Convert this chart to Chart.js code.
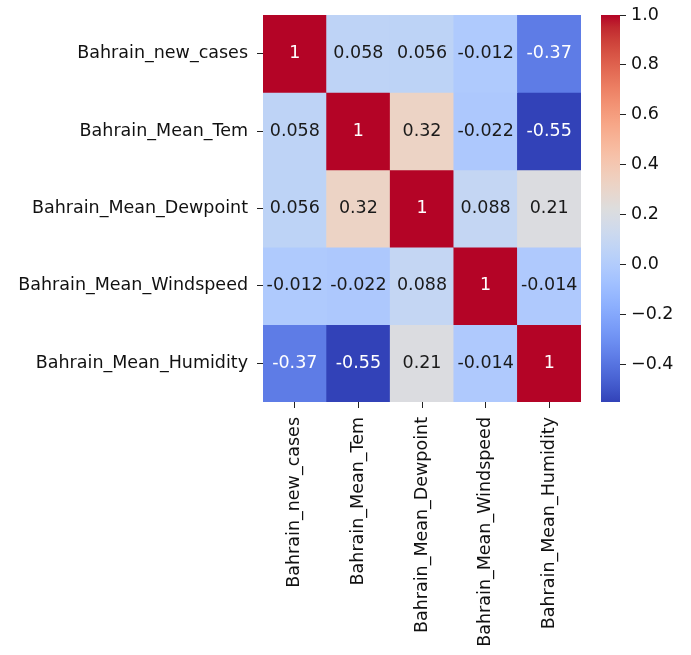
<!DOCTYPE html>
<html>
<head>
<meta charset="utf-8">
<script src="https://cdn.jsdelivr.net/npm/chart.js@4/dist/chart.umd.min.js"></script>
<style>
  html, body { margin: 0; padding: 0; background: #fff; }
  #wrap { position: relative; width: 691px; height: 655px; }
  #heatmap { position: absolute; left: 0; top: 0; }
  #colorbar { position: absolute; left: 590px; top: 0; }
</style>
</head>
<body>
<div id="wrap">
  <canvas id="heatmap" width="600" height="655"></canvas>
  <canvas id="colorbar" width="101" height="655"></canvas>
</div>
<script>
'use strict';

const variables = [
  'Bahrain_new_cases',
  'Bahrain_Mean_Tem',
  'Bahrain_Mean_Dewpoint',
  'Bahrain_Mean_Windspeed',
  'Bahrain_Mean_Humidity'
];

// correlation rows, same order as the variables
const corrNewCases  = [1, 0.058, 0.056, -0.012, -0.37];
const corrMeanTem   = [0.058, 1, 0.32, -0.022, -0.55];
const corrDewpoint  = [0.056, 0.32, 1, 0.088, 0.21];
const corrWindspeed = [-0.012, -0.022, 0.088, 1, -0.014];
const corrHumidity  = [-0.37, -0.55, 0.21, -0.014, 1];

const colorbarTicks = [-0.4, -0.2, 0.0, 0.2, 0.4, 0.6, 0.8, 1.0];

const corrRows = [corrNewCases, corrMeanTem, corrDewpoint, corrWindspeed, corrHumidity];
const allValues = corrRows.flat();
const vmin = Math.min(...allValues);
const vmax = Math.max(...allValues);

// coolwarm control points: t, r, g, b
const COOLWARM = [
  [0.0, 50, 66, 184], [0.03125, 62, 84, 199], [0.0625, 74, 100, 212], [0.09375, 85, 114, 223],
  [0.125, 97, 128, 233], [0.15625, 108, 142, 241], [0.1875, 119, 154, 247], [0.21875, 130, 165, 251],
  [0.25, 141, 176, 254], [0.28125, 152, 185, 255], [0.3125, 163, 194, 255], [0.34375, 174, 201, 253],
  [0.375, 184, 208, 249], [0.40625, 194, 213, 244], [0.4375, 204, 217, 238], [0.46875, 213, 219, 230],
  [0.5, 221, 221, 221], [0.53125, 229, 216, 209], [0.5625, 236, 211, 197], [0.59375, 241, 204, 185],
  [0.625, 245, 196, 173], [0.65625, 247, 187, 160], [0.6875, 247, 177, 148], [0.71875, 247, 166, 135],
  [0.75, 244, 154, 123], [0.78125, 241, 141, 111], [0.8125, 236, 127, 99], [0.84375, 229, 112, 88],
  [0.875, 222, 96, 77], [0.90625, 213, 80, 66], [0.9375, 203, 62, 56], [0.96875, 192, 40, 47],
  [1.0, 180, 4, 38]
];

function coolwarm(t) {
  t = Math.max(0, Math.min(1, t));
  for (let i = 1; i < COOLWARM.length; i++) {
    const a = COOLWARM[i - 1], b = COOLWARM[i];
    if (t <= b[0]) {
      const f = (t - a[0]) / (b[0] - a[0]);
      return [1, 2, 3].map(k => Math.round(a[k] + (b[k] - a[k]) * f));
    }
  }
  return COOLWARM[COOLWARM.length - 1].slice(1);
}

const norm = v => (v - vmin) / (vmax - vmin);
const rgb = c => `rgb(${c[0]},${c[1]},${c[2]})`;

// seaborn-style: dark cells get white text
function textColorFor(c) {
  const lin = c.map(x => {
    x /= 255;
    return x <= 0.03928 ? x / 12.92 : Math.pow((x + 0.055) / 1.055, 2.4);
  });
  const lum = 0.2126 * lin[0] + 0.7152 * lin[1] + 0.0722 * lin[2];
  return lum > 0.408 ? '#1a1a1a' : '#ffffff';
}

const fmtCell = v => String(parseFloat(v.toPrecision(2)));
const FONT = { family: 'DejaVu Sans', size: 17.5 };

// cell annotations
const annotate = {
  id: 'annotate',
  afterDatasetsDraw(chart) {
    const ctx = chart.ctx;
    ctx.save();
    ctx.font = `${FONT.size}px "${FONT.family}"`;
    ctx.textAlign = 'center';
    ctx.textBaseline = 'middle';
    chart.data.datasets.forEach((ds, i) => {
      chart.getDatasetMeta(i).data.forEach((el, j) => {
        const v = ds.corr[j];
        ctx.fillStyle = textColorFor(coolwarm(norm(v)));
        ctx.fillText(fmtCell(v), el.x, (el.y + el.base) / 2);
      });
    });
    ctx.restore();
  }
};

new Chart(document.getElementById('heatmap'), {
  type: 'bar',
  data: {
    labels: variables,
    datasets: corrRows.map((row, i) => ({
      corr: row,
      data: row.map(() => [i, i + 1]),
      backgroundColor: row.map(v => rgb(coolwarm(norm(v)))),
      borderWidth: 0,
      grouped: false,
      barPercentage: 1,
      categoryPercentage: 1
    }))
  },
  options: {
    responsive: false,
    animation: false,
    layout: { padding: { left: 0, top: 15, right: 19, bottom: 0 } },
    plugins: { legend: { display: false }, tooltip: { enabled: false } },
    scales: {
      x: {
        type: 'category',
        offset: true,
        border: { display: false },
        grid: { offset: false, drawOnChartArea: false, tickLength: 6, color: '#222' },
        ticks: {
          autoSkip: false, maxRotation: 90, minRotation: 90, padding: 9,
          color: '#111', font: FONT
        },
        afterFit(scale) {
          scale.height = 253;
          scale.paddingLeft = 0;
          scale.paddingRight = 0;
        }
      },
      y: {
        type: 'linear',
        min: 0,
        max: variables.length,
        reverse: true,
        border: { display: false },
        grid: { drawOnChartArea: false, tickLength: 6, color: '#222' },
        afterBuildTicks(scale) {
          scale.ticks = variables.map((_, i) => ({ value: i + 0.5 }));
        },
        ticks: {
          autoSkip: false, padding: 9, color: '#111', font: FONT,
          callback: (value, index) => variables[index]
        },
        afterFit(scale) {
          scale.width = 263;
          scale.paddingTop = 0;
          scale.paddingBottom = 0;
        }
      }
    }
  },
  plugins: [annotate]
});

// colour bar
new Chart(document.getElementById('colorbar'), {
  type: 'bar',
  data: {
    labels: [''],
    datasets: [{
      data: [[vmin, vmax]],
      borderWidth: 0,
      barPercentage: 1,
      categoryPercentage: 1,
      backgroundColor(c) {
        const chart = c.chart;
        if (!chart.chartArea) return null;
        const y = chart.scales.y;
        const g = chart.ctx.createLinearGradient(0, y.getPixelForValue(vmin), 0, y.getPixelForValue(vmax));
        COOLWARM.forEach(([t, r, gg, b]) => g.addColorStop(t, `rgb(${r},${gg},${b})`));
        return g;
      }
    }]
  },
  options: {
    responsive: false,
    animation: false,
    layout: { padding: { left: 11, top: 15, right: 0, bottom: 253 } },
    plugins: { legend: { display: false }, tooltip: { enabled: false } },
    scales: {
      x: { display: false },
      y: {
        position: 'right',
        min: vmin,
        max: vmax,
        border: { display: false },
        grid: { drawOnChartArea: false, tickLength: 6, color: '#222' },
        afterBuildTicks(scale) {
          scale.ticks = colorbarTicks.map(v => ({ value: v }));
        },
        ticks: {
          padding: 5, color: '#111', font: FONT,
          callback: v => v.toFixed(1).replace('-', '\u2212')
        },
        afterFit(scale) {
          scale.width = 71;
          scale.paddingTop = 0;
          scale.paddingBottom = 0;
        }
      }
    }
  }
});
</script>
</body>
</html>
